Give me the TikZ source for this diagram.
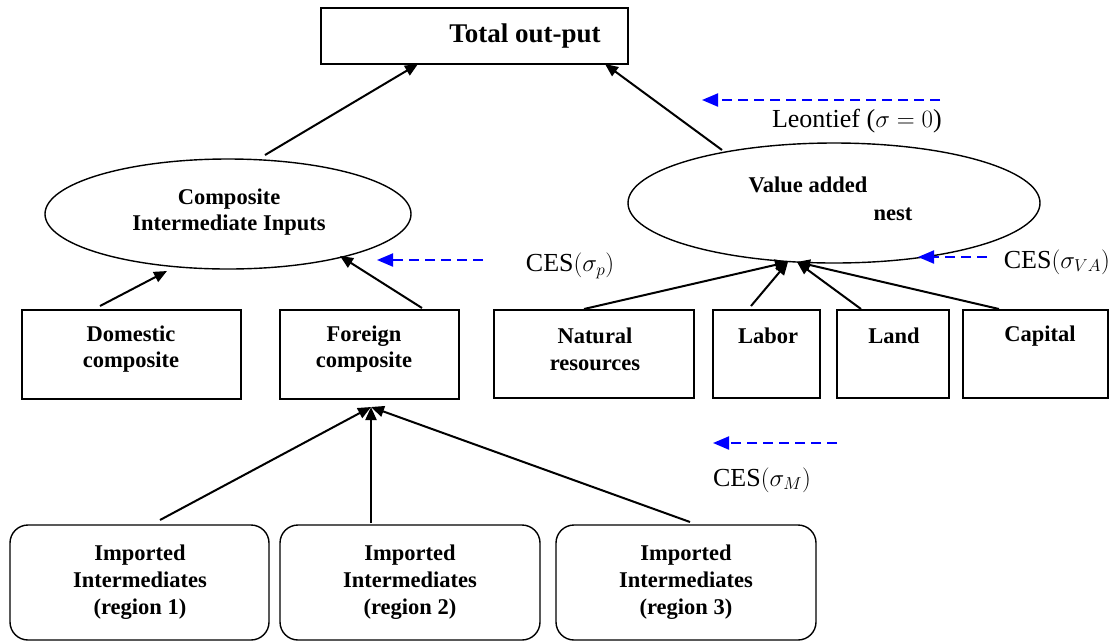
\documentclass[tikz,border=0pt]{standalone}
\usepackage{fontspec}
\setmainfont{Liberation Serif}
\usetikzlibrary{arrows.meta,shapes.geometric}
\begin{document}
\begin{tikzpicture}[x=1pt,y=-1pt,
  box/.style={draw,line width=1.4pt,inner sep=0pt},
  rbox/.style={draw,line width=1.4pt,rounded corners=18pt,inner sep=0pt},
  lbl/.style={font=\fontsize{22.5}{26.8}\selectfont\bfseries,align=center,inner sep=0pt},
  ttl/.style={font=\fontsize{27}{30}\selectfont\bfseries,align=center,inner sep=0pt},
  note/.style={font=\fontsize{26}{30}\selectfont,inner sep=0pt},
  arr/.style={line width=2pt,-{Triangle[length=13pt,width=11pt]}},
  blu/.style={draw=blue,line width=2pt,dash pattern=on 10pt off 6pt,-{Triangle[length=16pt,width=13pt,fill=blue]}}]
\useasboundingbox (0,0) rectangle (1113,641);
% top box
\node[box,minimum width=307pt,minimum height=56pt] (tot) at (474.5,36) {};
\node[ttl] (tott) at (525,36) {Total out-put};
% ellipses
\draw[line width=1.4pt] (228,214) ellipse [x radius=183, y radius=55];
\node[lbl] (cit) at (229,212) {Composite\\Intermediate Inputs};
\draw[line width=1.4pt] (834,203) ellipse [x radius=206, y radius=60];
\node[lbl] (vat1) at (808,185) {Value added};
\node[lbl] (vat2) at (893,214) {nest};
% middle boxes
\node[box,minimum width=219pt,minimum height=89pt] (dom) at (131.5,354.5) {};
\node[lbl] at (131,349) {Domestic\\composite};
\node[box,minimum width=179pt,minimum height=89pt] (for) at (369.5,354.5) {};
\node[lbl] at (364,349) {Foreign\\composite};
\node[box,minimum width=200pt,minimum height=88pt] (nat) at (594,354) {};
\node[lbl] at (595,349) {Natural\\resources};
\node[box,minimum width=107pt,minimum height=88pt] (lab) at (766.5,354) {};
\node[lbl] at (768,336) {Labor};
\node[box,minimum width=112pt,minimum height=88pt] (lan) at (893,354) {};
\node[lbl] at (894,336) {Land};
\node[box,minimum width=145pt,minimum height=88pt] (cap) at (1035.5,354) {};
\node[lbl] at (1040,336) {Capital};
% bottom boxes
\node[rbox,minimum width=259pt,minimum height=115pt] (r1) at (139.5,582.5) {};
\node[lbl] at (140,582) {Imported\\Intermediates\\(region 1)};
\node[rbox,minimum width=260pt,minimum height=115pt] (r2) at (410,582.5) {};
\node[lbl] at (410,582) {Imported\\Intermediates\\(region 2)};
\node[rbox,minimum width=260pt,minimum height=115pt] (r3) at (686,582.5) {};
\node[lbl] at (686,582) {Imported\\Intermediates\\(region 3)};
% coordinates for connectors
\coordinate (ciTop) at (265,155);
\coordinate (totL) at (418,64);
\coordinate (vaTop) at (722,150);
\coordinate (totR) at (605,64);
\coordinate (domTop) at (100,306);
\coordinate (ciB1) at (167,271);
\coordinate (forTop) at (422,308);
\coordinate (ciB2) at (340,256);
\coordinate (natTop) at (584,309);
\coordinate (labTop) at (751,306);
\coordinate (lanTop) at (861,309);
\coordinate (capTop) at (999,309);
\coordinate (vaB1) at (788,262);
\coordinate (vaB2) at (797,262);
\coordinate (r1Top) at (160,520);
\coordinate (r2Top) at (371,523);
\coordinate (r3Top) at (690,522);
\coordinate (forB) at (371,407);
% black arrows
\draw[arr] (ciTop) -- (totL);
\draw[arr] (vaTop) -- (totR);
\draw[arr] (domTop) -- (ciB1);
\draw[arr] (forTop) -- (ciB2);
\draw[arr] (natTop) -- (vaB1);
\draw[arr] (labTop) -- (vaB1);
\draw[arr] (lanTop) -- (vaB2);
\draw[arr] (capTop) -- (vaB2);
\draw[arr] (r1Top) -- (forB);
\draw[arr] (r2Top) -- (forB);
\draw[arr] (r3Top) -- (forB);
% blue dashed arrows and labels
\coordinate (b1s) at (940,100); \coordinate (b1e) at (702,100);
\draw[blu] (b1s) -- (b1e);
\node[note,anchor=east] (leo) at (942,121) {Leontief ($\sigma = 0$)};
\coordinate (b2s) at (483,260); \coordinate (b2e) at (377,260);
\draw[blu] (b2s) -- (b2e);
\node[note] (cesp) at (570,266) {CES$\bigl(\sigma_p\bigr)$};
\coordinate (b3s) at (987,257); \coordinate (b3e) at (918,257);
\draw[blu] (b3s) -- (b3e);
\node[note,anchor=east] (cesva) at (1110,262) {CES$\bigl(\sigma_{VA}\bigr)$};
\coordinate (b4s) at (837,443); \coordinate (b4e) at (713,443);
\draw[blu] (b4s) -- (b4e);
\node[note] (cesm) at (762,480) {CES$\bigl(\sigma_M\bigr)$};
\end{tikzpicture}
\end{document}
